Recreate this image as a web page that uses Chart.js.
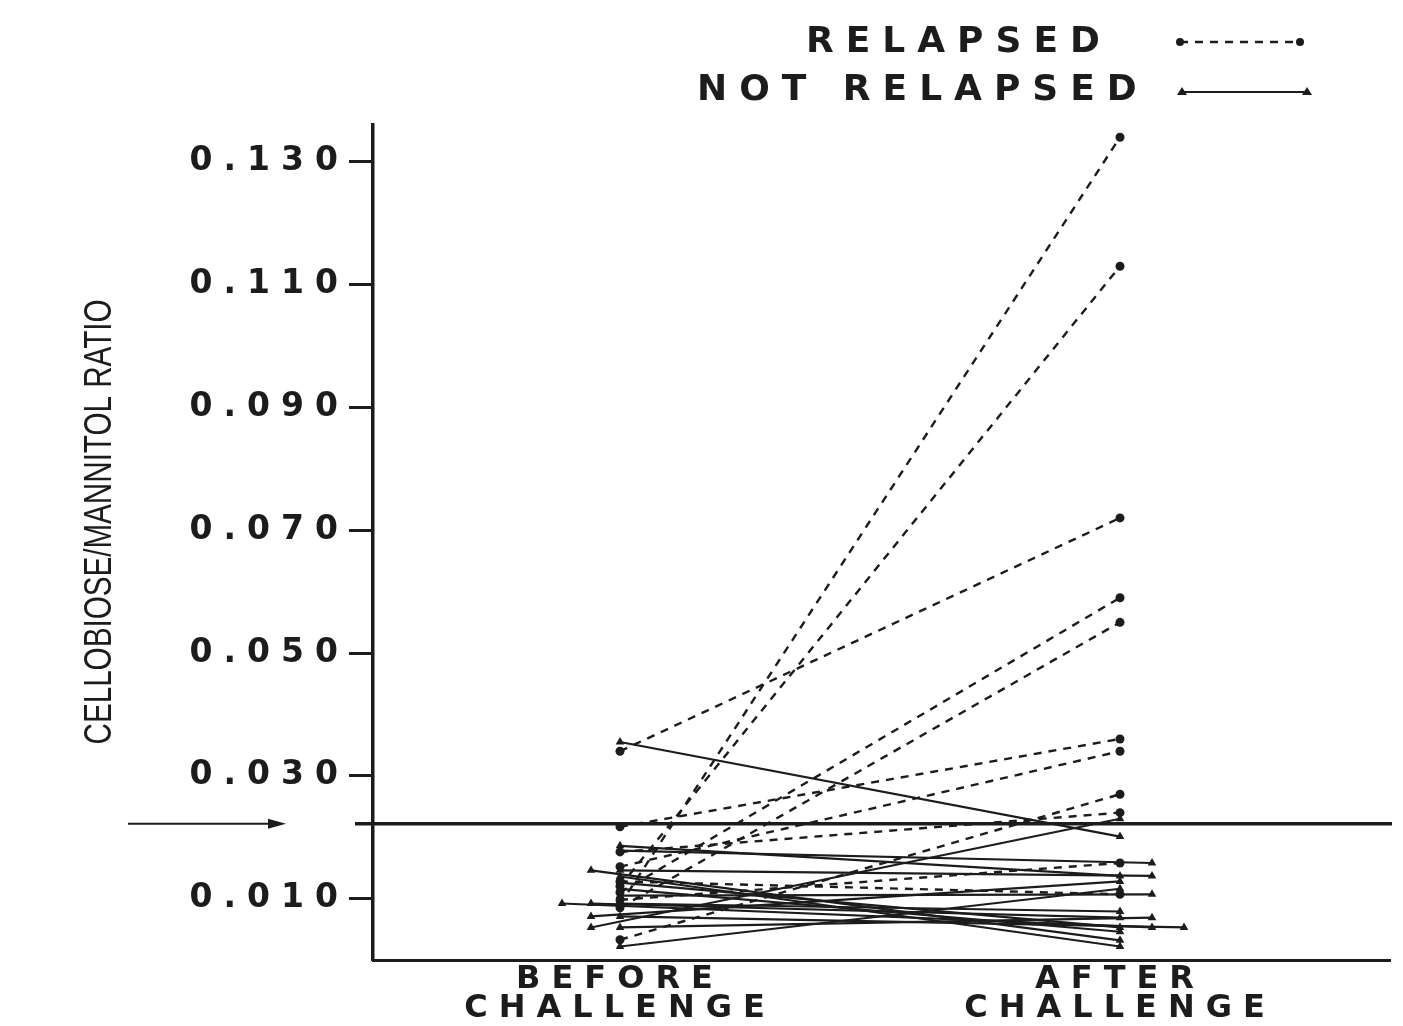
<!DOCTYPE html>
<html>
<head>
<meta charset="utf-8">
<script src="https://cdn.jsdelivr.net/npm/chart.js@4.4.1/dist/chart.umd.min.js"></script>
<style>
html,body{margin:0;padding:0;background:#ffffff;}
#wrap{width:1403px;height:1026px;}
canvas{display:block;}
</style>
</head>
<body>
<div id="wrap"><canvas id="c" width="1403" height="1026"></canvas></div>
<script>
// ---- data ----
const groupLabels = [['BEFORE', 'CHALLENGE'], ['AFTER', 'CHALLENGE']];
const yTicks = [0.010, 0.030, 0.050, 0.070, 0.090, 0.110, 0.130];
const thresholdValue = 0.0222;
const legendLabels = ['RELAPSED', 'NOT RELAPSED'];
const yTitle = 'CELLOBIOSE/MANNITOL RATIO';

const relapsedBefore = [0.0090, 0.0120, 0.0340, 0.0110, 0.0085, 0.0217, 0.0152, 0.0176, 0.0128, 0.0098, 0.0033];
const relapsedAfter  = [0.1340, 0.1130, 0.0720, 0.0590, 0.0550, 0.0360, 0.0340, 0.0240, 0.0107, 0.0158, 0.0270];

const notRelapsedBefore = [0.0355, 0.0186, 0.0178, 0.0146, 0.0146, 0.0136, 0.0126, 0.0116, 0.0092, 0.0092, 0.0092, 0.0071, 0.0071, 0.0053, 0.0053, 0.0022, 0.0105];
const notRelapsedAfter  = [0.0201, 0.0137, 0.0158, 0.0137, 0.0032, 0.0022, 0.0053, 0.0046, 0.0079, 0.0069, 0.0053, 0.0053, 0.0128, 0.0069, 0.0230, 0.0116, 0.0107];

// ---- styling / layout ----
const INK = '#1c1c1c';
const BEFORE_X = 1, AFTER_X = 2;
const BEFORE_STEP = -0.058, AFTER_STEP = 0.064; // sideways shift for tied values

// tied values in a column are drawn side by side
const seen = {before: {}, after: {}};
function slot(col, v) {
  const k = v.toFixed(4);
  const n = seen[col][k] || 0;
  seen[col][k] = n + 1;
  return n;
}

const datasets = [];
relapsedBefore.forEach((b, i) => {
  const a = relapsedAfter[i];
  datasets.push({
    label: 'RELAPSED',
    data: [
      {x: BEFORE_X + slot('before', b) * BEFORE_STEP, y: b},
      {x: AFTER_X + slot('after', a) * AFTER_STEP, y: a}
    ],
    showLine: true,
    borderColor: INK,
    backgroundColor: INK,
    borderWidth: 2.4,
    borderDash: [8, 7],
    pointStyle: 'circle',
    pointRadius: 4.5,
    pointBorderWidth: 0,
    pointBackgroundColor: INK
  });
});
notRelapsedBefore.forEach((b, i) => {
  const a = notRelapsedAfter[i];
  datasets.push({
    label: 'NOT RELAPSED',
    data: [
      {x: BEFORE_X + slot('before', b) * BEFORE_STEP, y: b},
      {x: AFTER_X + slot('after', a) * AFTER_STEP, y: a}
    ],
    showLine: true,
    borderColor: INK,
    backgroundColor: INK,
    borderWidth: 2.2,
    pointStyle: 'triangle',
    pointRadius: 5,
    pointBorderWidth: 0,
    pointBackgroundColor: INK
  });
});

const SPACING = '11px';
const TEXT_FONT = '"DejaVu Sans", sans-serif';
const decorPlugin = {
  id: 'decor',
  afterInit(chart) { chart.ctx.letterSpacing = SPACING; },
  beforeLayout(chart) { chart.ctx.letterSpacing = SPACING; },
  beforeDraw(chart) {
    const ctx = chart.ctx;
    ctx.save();
    ctx.fillStyle = '#ffffff';
    ctx.fillRect(0, 0, chart.width, chart.height);
    ctx.restore();
    ctx.letterSpacing = SPACING;
  },
  afterDatasetsDraw(chart) {
    const ctx = chart.ctx;
    const area = chart.chartArea;
    const y = chart.scales.y.getPixelForValue(thresholdValue);
    ctx.save();
    ctx.strokeStyle = INK;
    ctx.fillStyle = INK;
    ctx.setLineDash([]);
    // threshold line
    ctx.lineWidth = 3.5;
    ctx.beginPath();
    ctx.moveTo(area.left - 18, y);
    ctx.lineTo(area.right + 2, y);
    ctx.stroke();
    // arrow pointing at it
    ctx.lineWidth = 2;
    ctx.beginPath();
    ctx.moveTo(128, y);
    ctx.lineTo(272, y);
    ctx.stroke();
    ctx.beginPath();
    ctx.moveTo(286, y);
    ctx.lineTo(268, y - 5);
    ctx.lineTo(268, y + 5);
    ctx.closePath();
    ctx.fill();
    ctx.restore();
  },
  afterDraw(chart) {
    const ctx = chart.ctx;
    ctx.save();
    ctx.fillStyle = INK;
    ctx.strokeStyle = INK;
    // y title, condensed
    ctx.letterSpacing = '0px';
    ctx.font = '39px "Liberation Sans", Arial, sans-serif';
    ctx.textAlign = 'center';
    ctx.textBaseline = 'middle';
    const w = ctx.measureText(yTitle).width;
    ctx.save();
    ctx.translate(100, 522);
    ctx.rotate(-Math.PI / 2);
    ctx.scale(445 / w, 1);
    ctx.fillText(yTitle, 0, 0);
    ctx.restore();

    // legend
    ctx.letterSpacing = '12px';
    ctx.font = 'bold 36px ' + TEXT_FONT;
    ctx.textAlign = 'left';
    ctx.textBaseline = 'middle';
    ctx.fillText(legendLabels[0], 806, 43);
    ctx.fillText(legendLabels[1], 697, 91);
    // relapsed sample
    ctx.lineWidth = 2.4;
    ctx.setLineDash([8, 7]);
    ctx.beginPath();
    ctx.moveTo(1180, 42); ctx.lineTo(1300, 42);
    ctx.stroke();
    ctx.setLineDash([]);
    [1180, 1300].forEach(x => { ctx.beginPath(); ctx.arc(x, 42, 4, 0, Math.PI * 2); ctx.fill(); });
    // not relapsed sample
    ctx.lineWidth = 2;
    ctx.beginPath();
    ctx.moveTo(1182, 92); ctx.lineTo(1307, 92);
    ctx.stroke();
    [1182, 1307].forEach(x => {
      ctx.beginPath();
      ctx.moveTo(x, 87); ctx.lineTo(x + 5, 95); ctx.lineTo(x - 5, 95);
      ctx.closePath(); ctx.fill();
    });
    ctx.restore();
  }
};

new Chart(document.getElementById('c'), {
  type: 'scatter',
  data: {datasets},
  plugins: [decorPlugin],
  options: {
    responsive: false,
    animation: false,
    devicePixelRatio: 1,
    layout: {padding: {left: 80, right: 13, top: 125, bottom: 0}},
    plugins: {legend: {display: false}, tooltip: {enabled: false}},
    scales: {
      x: {
        type: 'linear',
        min: 0.506,
        max: 2.54,
        afterBuildTicks(scale) { scale.ticks = [{value: BEFORE_X}, {value: AFTER_X}]; },
        afterFit(scale) { scale.height = 66; },
        ticks: {
          color: INK,
          padding: 6,
          autoSkip: false,
          maxRotation: 0,
          font: {family: TEXT_FONT, size: 32, weight: 'bold', lineHeight: 0.88},
          callback(v) { return v === BEFORE_X ? groupLabels[0] : (v === AFTER_X ? groupLabels[1] : ''); }
        },
        grid: {display: true, drawOnChartArea: false, drawTicks: false},
        border: {display: true, color: INK, width: 3}
      },
      y: {
        type: 'linear',
        min: 0,
        max: 0.136,
        afterBuildTicks(scale) { scale.ticks = yTicks.map(v => ({value: v})); },
        afterFit(scale) { scale.width = 293; },
        ticks: {
          color: INK,
          padding: 0,
          font: {family: TEXT_FONT, size: 33, weight: 'bold'},
          callback(v) { return v.toFixed(3); }
        },
        grid: {display: true, drawOnChartArea: false, drawTicks: true, tickLength: 24, tickWidth: 3, tickColor: INK},
        border: {display: true, color: INK, width: 3.5}
      }
    }
  }
});
</script>
</body>
</html>
